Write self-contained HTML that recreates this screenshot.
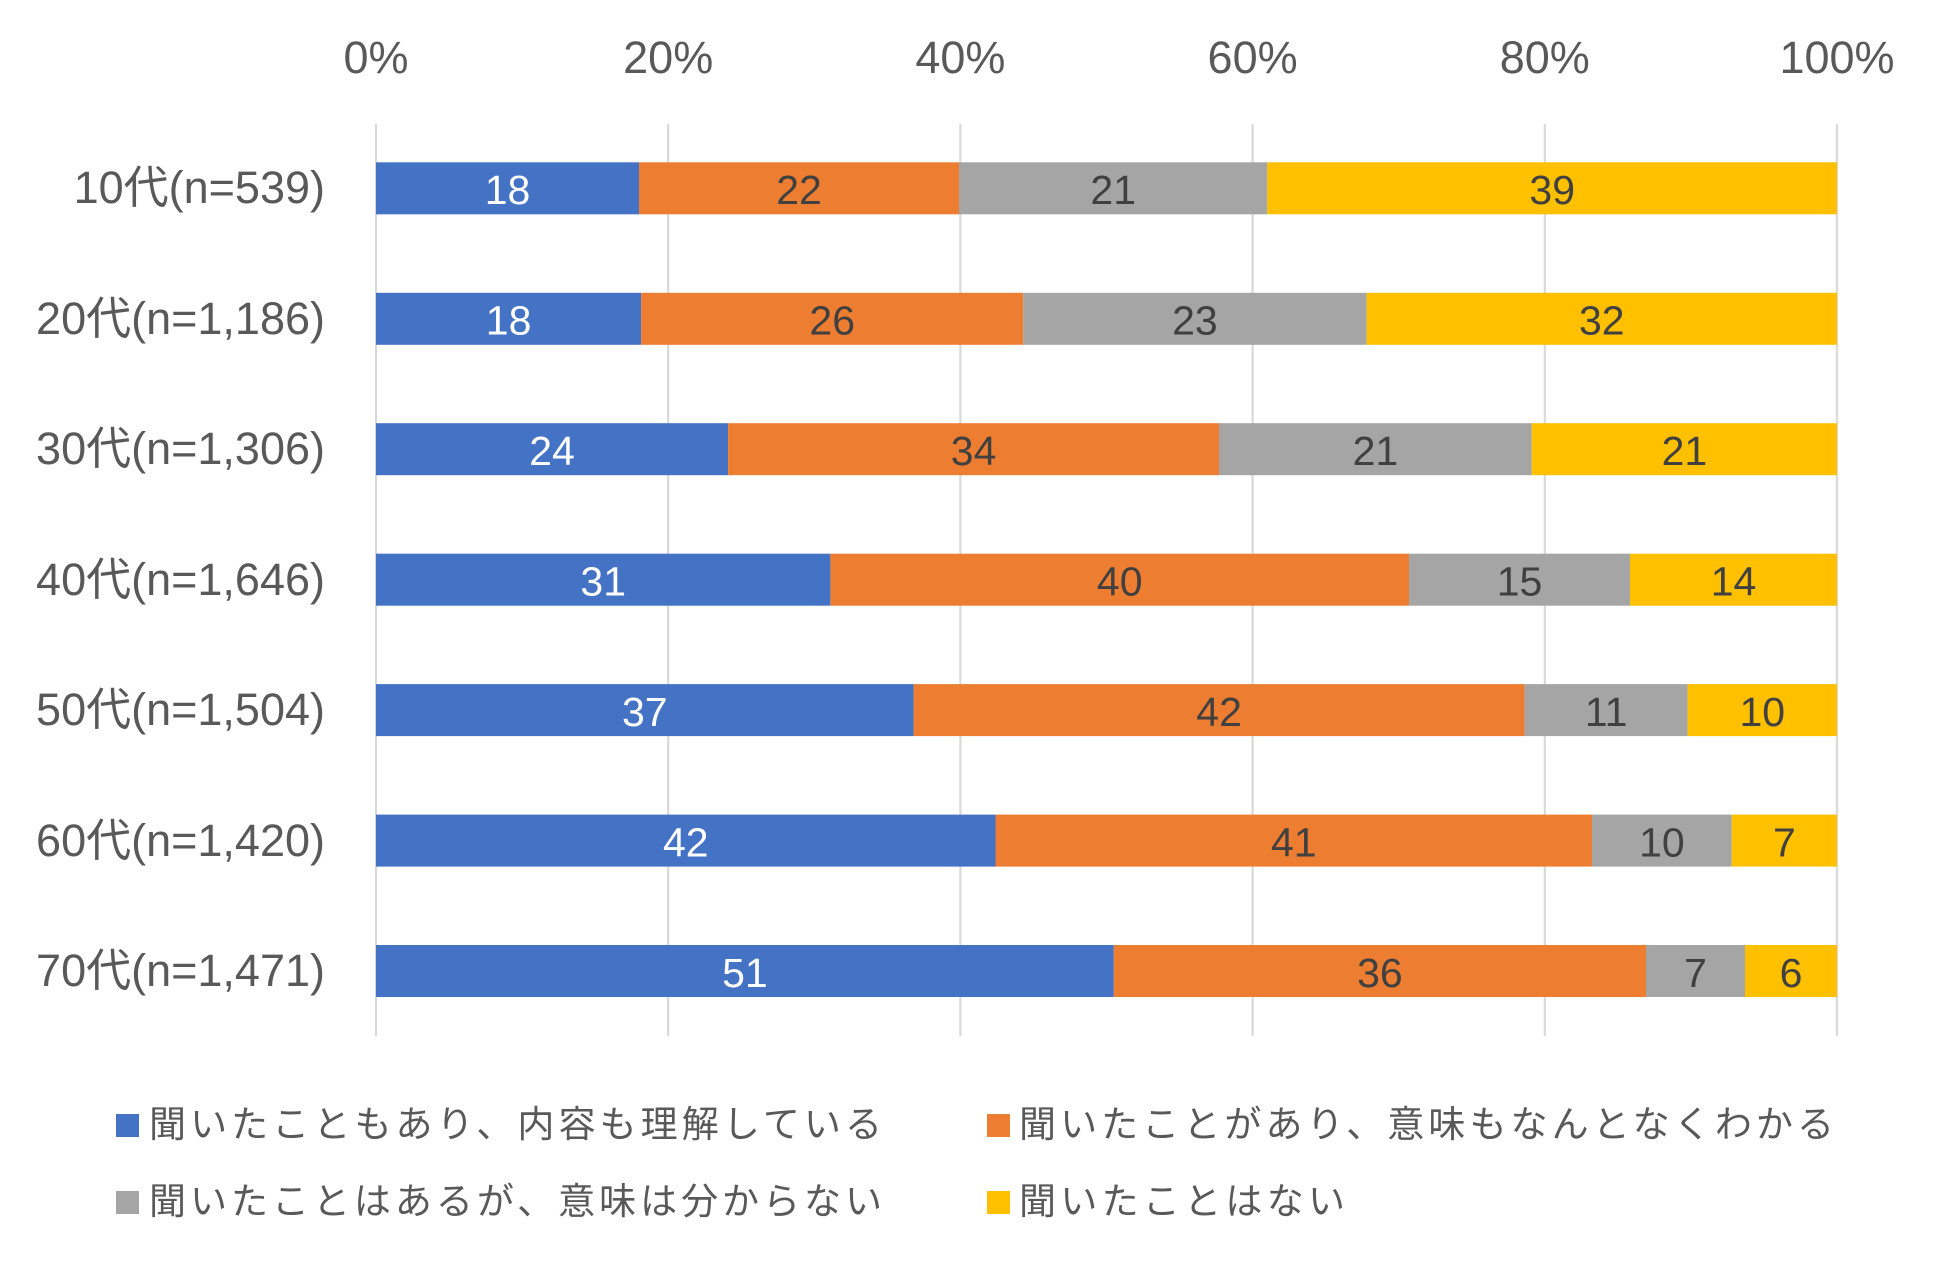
<!DOCTYPE html>
<html>
<head>
<meta charset="utf-8">
<style>
html,body{margin:0;padding:0;background:#fff;}
svg{display:block;}
</style>
</head>
<body>
<svg width="1944" height="1262" viewBox="0 0 1944 1262" xmlns="http://www.w3.org/2000/svg">
<rect x="0" y="0" width="1944" height="1262" fill="#ffffff"/>
<!-- gridlines -->
<g stroke="#D9D9D9" stroke-width="2.2">
<line x1="376" y1="124" x2="376" y2="1036"/>
<line x1="668.2" y1="124" x2="668.2" y2="1036"/>
<line x1="960.4" y1="124" x2="960.4" y2="1036"/>
<line x1="1252.6" y1="124" x2="1252.6" y2="1036"/>
<line x1="1544.8" y1="124" x2="1544.8" y2="1036"/>
<line x1="1837" y1="124" x2="1837" y2="1036"/>
</g>
<!-- tick labels -->
<g font-family="'Liberation Sans', sans-serif" font-size="45" fill="#595959" text-anchor="middle">
<text x="376" y="73">0%</text>
<text x="668.2" y="73">20%</text>
<text x="960.4" y="73">40%</text>
<text x="1252.6" y="73">60%</text>
<text x="1544.8" y="73">80%</text>
<text x="1837" y="73">100%</text>
</g>
<g font-family="'Liberation Sans', 'Noto Sans CJK JP', sans-serif" font-size="45" fill="#595959" text-anchor="end">
<text x="325" y="203">10代(n=539)</text>
<text x="325" y="334">20代(n=1,186)</text>
<text x="325" y="464">30代(n=1,306)</text>
<text x="325" y="595">40代(n=1,646)</text>
<text x="325" y="725">50代(n=1,504)</text>
<text x="325" y="856">60代(n=1,420)</text>
<text x="325" y="986">70代(n=1,471)</text>
</g>

<g>
<rect x="376" y="162.3" width="263" height="52" fill="#4472C4"/>
<rect x="639" y="162.3" width="320" height="52" fill="#ED7D31"/>
<rect x="959" y="162.3" width="308.3" height="52" fill="#A5A5A5"/>
<rect x="1267.3" y="162.3" width="569.7" height="52" fill="#FFC000"/>
</g>
<g>
<rect x="376" y="292.8" width="265.2" height="52" fill="#4472C4"/>
<rect x="641.2" y="292.8" width="382" height="52" fill="#ED7D31"/>
<rect x="1023.2" y="292.8" width="343.4" height="52" fill="#A5A5A5"/>
<rect x="1366.6" y="292.8" width="470.4" height="52" fill="#FFC000"/>
</g>
<g>
<rect x="376" y="423.2" width="352.1" height="52" fill="#4472C4"/>
<rect x="728.1" y="423.2" width="490.9" height="52" fill="#ED7D31"/>
<rect x="1219" y="423.2" width="312.7" height="52" fill="#A5A5A5"/>
<rect x="1531.7" y="423.2" width="305.3" height="52" fill="#FFC000"/>
</g>
<g>
<rect x="376" y="553.7" width="454.4" height="52" fill="#4472C4"/>
<rect x="830.4" y="553.7" width="578.6" height="52" fill="#ED7D31"/>
<rect x="1409" y="553.7" width="221" height="52" fill="#A5A5A5"/>
<rect x="1630" y="553.7" width="207" height="52" fill="#FFC000"/>
</g>
<g>
<rect x="376" y="684.1" width="537.6" height="52" fill="#4472C4"/>
<rect x="913.6" y="684.1" width="611" height="52" fill="#ED7D31"/>
<rect x="1524.6" y="684.1" width="163" height="52" fill="#A5A5A5"/>
<rect x="1687.6" y="684.1" width="149.4" height="52" fill="#FFC000"/>
</g>
<g>
<rect x="376" y="814.6" width="619.5" height="52" fill="#4472C4"/>
<rect x="995.5" y="814.6" width="596.5" height="52" fill="#ED7D31"/>
<rect x="1592" y="814.6" width="139.7" height="52" fill="#A5A5A5"/>
<rect x="1731.7" y="814.6" width="105.3" height="52" fill="#FFC000"/>
</g>
<g>
<rect x="376" y="945" width="737.8" height="52" fill="#4472C4"/>
<rect x="1113.8" y="945" width="532.2" height="52" fill="#ED7D31"/>
<rect x="1646" y="945" width="99" height="52" fill="#A5A5A5"/>
<rect x="1745" y="945" width="92" height="52" fill="#FFC000"/>
</g>

<!-- data labels -->
<g font-family="'Liberation Sans', sans-serif" font-size="41" text-anchor="middle" fill="#404040">
<text x="507.5" y="204" fill="#ffffff">18</text>
<text x="799" y="204">22</text>
<text x="1113.2" y="204">21</text>
<text x="1552.2" y="204">39</text>

<text x="508.6" y="334.5" fill="#ffffff">18</text>
<text x="832.2" y="334.5">26</text>
<text x="1194.9" y="334.5">23</text>
<text x="1601.8" y="334.5">32</text>

<text x="552" y="465" fill="#ffffff">24</text>
<text x="973.6" y="465">34</text>
<text x="1375.4" y="465">21</text>
<text x="1684.4" y="465">21</text>

<text x="603.2" y="595.5" fill="#ffffff">31</text>
<text x="1119.7" y="595.5">40</text>
<text x="1519.5" y="595.5">15</text>
<text x="1733.5" y="595.5">14</text>

<text x="644.8" y="726" fill="#ffffff">37</text>
<text x="1219.1" y="726">42</text>
<text x="1606.1" y="726">11</text>
<text x="1762.3" y="726">10</text>

<text x="685.8" y="856.5" fill="#ffffff">42</text>
<text x="1293.8" y="856.5">41</text>
<text x="1661.9" y="856.5">10</text>
<text x="1784.4" y="856.5">7</text>

<text x="744.9" y="987" fill="#ffffff">51</text>
<text x="1379.9" y="987">36</text>
<text x="1695.5" y="987">7</text>
<text x="1791" y="987">6</text>
</g>

<!-- legend -->
<rect x="116" y="1114" width="23" height="23" fill="#4472C4"/>
<rect x="987" y="1114" width="23" height="23" fill="#ED7D31"/>
<rect x="116" y="1191" width="23" height="23" fill="#A5A5A5"/>
<rect x="987" y="1191" width="23" height="23" fill="#FFC000"/>
<g font-family="'Liberation Sans', 'Noto Sans CJK JP', sans-serif" font-size="37" fill="#595959">
<text x="149" y="1137" textLength="733" lengthAdjust="spacing">聞いたこともあり、内容も理解している</text>
<text x="1019" y="1137" textLength="815" lengthAdjust="spacing">聞いたことがあり、意味もなんとなくわかる</text>
<text x="149" y="1214" textLength="733" lengthAdjust="spacing">聞いたことはあるが、意味は分からない</text>
<text x="1019" y="1214" textLength="326" lengthAdjust="spacing">聞いたことはない</text>
</g>
</svg>
</body>
</html>
